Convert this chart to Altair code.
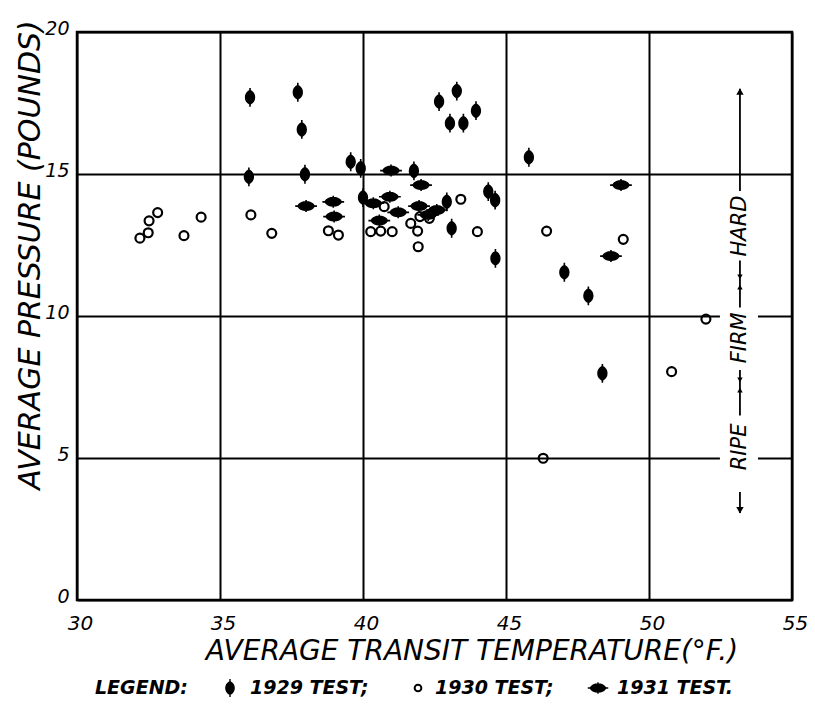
import altair as alt
import pandas as pd

# ---------------- data ----------------
T_1929 = [36.05, 37.72, 37.86, 36.01, 37.97, 39.57, 39.92, 41.78, 40.00, 42.66, 43.28, 43.95,
          43.04, 43.51, 45.80, 42.93, 43.10, 44.38, 44.62, 44.63, 47.04, 47.88, 48.37]
P_1929 = [17.70, 17.88, 16.57, 14.90, 14.99, 15.43, 15.20, 15.11, 14.17, 17.55, 17.92, 17.23,
          16.79, 16.79, 15.59, 14.02, 13.09, 14.38, 14.08, 12.03, 11.54, 10.71, 7.98]

T_1930 = [32.20, 32.49, 32.52, 32.82, 33.74, 34.34, 36.08, 36.81, 38.79, 39.14, 40.74, 40.27,
          40.62, 41.02, 41.67, 41.99, 42.32, 41.91, 41.93, 43.42, 44.00, 46.42, 49.10, 51.99,
          50.79, 46.30]
P_1930 = [12.74, 12.93, 13.35, 13.64, 12.83, 13.48, 13.56, 12.91, 13.00, 12.85, 13.85, 12.97,
          12.99, 12.97, 13.26, 13.50, 13.44, 12.99, 12.44, 14.11, 12.97, 12.99, 12.70, 9.89,
          8.04, 4.99]

T_1931 = [38.01, 38.96, 38.99, 40.98, 42.03, 40.36, 40.94, 41.23, 41.96, 42.58, 42.28, 40.57,
          49.02, 48.67]
P_1931 = [13.87, 14.02, 13.50, 15.12, 14.61, 13.97, 14.20, 13.65, 13.87, 13.73, 13.56, 13.36,
          14.61, 12.11]

X_TICKS = [30, 35, 40, 45, 50, 55]
Y_TICKS = [0, 5, 10, 15, 20]

X_TITLE = "AVERAGE TRANSIT TEMPERATURE(°F.)"
Y_TITLE = "AVERAGE PRESSURE (POUNDS)"
LEGEND_WORDS = ["LEGEND:", "1929 TEST;", "1930 TEST;", "1931 TEST."]

# firmness scale annotation at the right
ZONE_LABELS = ["HARD", "FIRM", "RIPE"]
ZONE_CENTER = [13.17, 9.23, 5.39]
ZONE_TOP = [14.40, 10.30, 6.50]
ZONE_BOTTOM = [11.95, 8.10, 3.80]
ZONE_X = 53.18
SEG_TOP = [18.00, 11.95, 8.10, 3.80]
SEG_BOTTOM = [14.40, 10.30, 6.50, 3.06]
ARROW_P = [17.90, 3.16, 11.38, 11.02, 7.75, 7.39]
ARROW_SHAPE = ["triangle-up", "triangle-down", "triangle-down", "triangle-up", "triangle-down", "triangle-up"]
ARROW_SIZE = [55, 55, 30, 30, 30, 30]

# ---------------- styles ----------------
FONT = "DejaVu Sans"
SHAPE_1929 = ("M0,-1.05C0.9,-0.55 0.9,0.55 0,1.05C-0.9,0.55 -0.9,-0.55 0,-1.05Z "
              "M0,-1.45L0,1.45")
SHAPE_1931 = ("M-1.1,0C-0.6,-0.75 0.6,-0.75 1.1,0C0.6,0.75 -0.6,0.75 -1.1,0Z "
              "M-1.45,0L1.45,0 M0,-0.8L0,0.8")

x_scale = alt.Scale(domain=[30, 55], nice=False, zero=False)
y_scale = alt.Scale(domain=[0, 20], nice=False, zero=False)

x_axis = alt.Axis(values=X_TICKS, grid=True, gridColor="black", gridWidth=2, gridOpacity=1,
                  domain=False, ticks=False, tickSize=0, labelFont=FONT, labelFontStyle="italic",
                  labelFontSize=20, labelColor="black", labelPadding=13, labelOffset=3,
                  labelFlush=False, title=None)
y_axis = alt.Axis(values=Y_TICKS, grid=True, gridColor="black", gridWidth=2, gridOpacity=1,
                  domain=False, ticks=False, tickSize=0, labelFont=FONT, labelFontStyle="italic",
                  labelFontSize=19, labelColor="black", labelPadding=8, labelOffset=-4,
                  labelFlush=False, title=None)


def X(field="T"):
    return alt.X(f"{field}:Q", scale=x_scale, axis=x_axis)


def Y(field="P"):
    return alt.Y(f"{field}:Q", scale=y_scale, axis=y_axis)


df29 = pd.DataFrame({"T": T_1929, "P": P_1929})
df30 = pd.DataFrame({"T": T_1930, "P": P_1930})
df31 = pd.DataFrame({"T": T_1931, "P": P_1931})

pts29 = alt.Chart(df29).mark_point(shape=SHAPE_1929, size=169, filled=True, fill="black",
                                   stroke="black", strokeWidth=1.6, opacity=1).encode(x=X(), y=Y())
pts30 = alt.Chart(df30).mark_point(shape="circle", size=80, filled=False, stroke="black",
                                   strokeWidth=2.2, opacity=1).encode(x=X(), y=Y())
pts31 = alt.Chart(df31).mark_point(shape=SHAPE_1931, size=225, filled=True, fill="black",
                                   stroke="black", strokeWidth=1.6, opacity=1).encode(x=X(), y=Y())

# ---------------- right-hand firmness annotation ----------------
zones = pd.DataFrame({"label": ZONE_LABELS, "P": ZONE_CENTER, "top": ZONE_TOP,
                      "bot": ZONE_BOTTOM, "T": [ZONE_X] * 3,
                      "x1": [ZONE_X - 0.70] * 3, "x2": [ZONE_X + 0.63] * 3})
gaps = alt.Chart(zones).mark_rect(color="white").encode(
    x=X("x1"), x2="x2:Q", y=Y("top"), y2="bot:Q")
zone_text = alt.Chart(zones).mark_text(angle=270, font=FONT, fontStyle="italic", fontSize=21,
                                       color="black", align="center", baseline="middle").encode(
    x=X(), y=Y(), text="label:N")

segs = pd.DataFrame({"T": [ZONE_X] * len(SEG_TOP), "P": SEG_TOP, "P2": SEG_BOTTOM})
seg_rules = alt.Chart(segs).mark_rule(color="black", strokeWidth=1.8).encode(
    x=X(), y=Y(), y2="P2:Q")

arrows = pd.DataFrame({"T": [ZONE_X] * len(ARROW_P), "P": ARROW_P, "shape": ARROW_SHAPE,
                       "size": ARROW_SIZE})
arrow_pts = alt.Chart(arrows).mark_point(filled=True, color="black", opacity=1).encode(
    x=X(), y=Y(),
    shape=alt.Shape("shape:N", scale=None, legend=None),
    size=alt.Size("size:Q", scale=None, legend=None))

# ---------------- titles and hand-made legend (pixel positions) ----------------
def label(text, px, py, size, angle=0, align="center", weight="normal"):
    return alt.Chart(pd.DataFrame({"t": [text]})).mark_text(
        font=FONT, fontStyle="italic", fontSize=size, fontWeight=weight, color="black",
        angle=angle, align=align, baseline="middle").encode(
        x=alt.value(px), y=alt.value(py), text="t:N")


x_title = label(X_TITLE, 395, 620, 28)
y_title = label(Y_TITLE, -46, 223, 30, angle=270)
leg_y = 656
leg_texts = [label(w, px, leg_y, 19, align="left", weight="bold")
             for w, px in zip(LEGEND_WORDS, [18, 173, 358, 540])]

leg_syms = [
    alt.Chart(pd.DataFrame({"s": [0]})).mark_point(shape=SHAPE_1929, size=150, filled=True,
                                                   fill="black", stroke="black", strokeWidth=1.4,
                                                   opacity=1).encode(x=alt.value(153), y=alt.value(leg_y)),
    alt.Chart(pd.DataFrame({"s": [0]})).mark_point(shape="circle", size=45, filled=False,
                                                   stroke="black", strokeWidth=2,
                                                   opacity=1).encode(x=alt.value(341), y=alt.value(leg_y)),
    alt.Chart(pd.DataFrame({"s": [0]})).mark_point(shape=SHAPE_1931, size=200, filled=True,
                                                   fill="black", stroke="black", strokeWidth=1.4,
                                                   opacity=1).encode(x=alt.value(521), y=alt.value(leg_y)),
]

chart = alt.layer(
    gaps, seg_rules, arrow_pts, zone_text, pts30, pts29, pts31,
    x_title, y_title, *leg_texts, *leg_syms
).properties(
    width=715, height=568,
    autosize=alt.AutoSizeParams(type="none"),
    padding={"left": 69, "top": 24, "right": 15, "bottom": 98},
    background="white",
).configure_view(
    stroke="black", strokeWidth=2.5
)

chart.save("out.html", embed_options={"renderer": "svg", "actions": False})
